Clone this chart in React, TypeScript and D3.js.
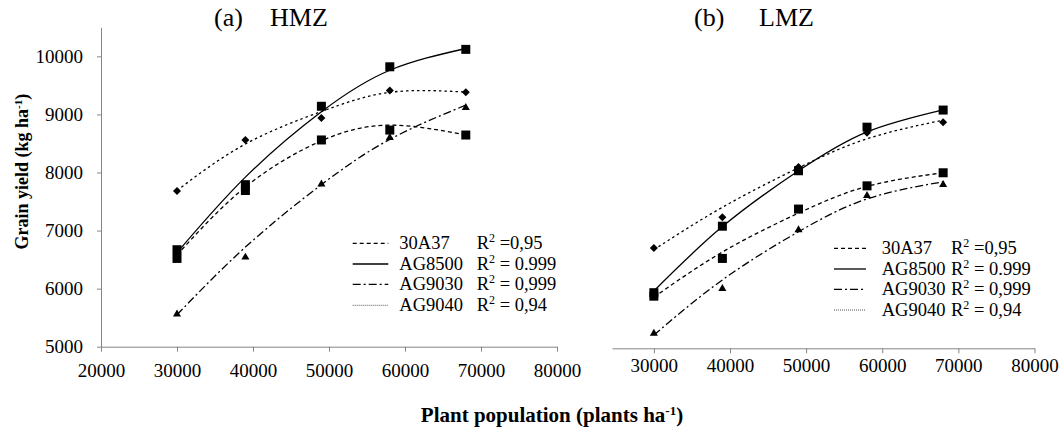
import { useEffect, useRef } from 'react'
import * as d3 from 'd3'

// ---- data ----
const populations = [30000, 39000, 49000, 58000, 68000]
const xTicksLeft = [20000, 30000, 40000, 50000, 60000, 70000, 80000]
const xTicksRight = [30000, 40000, 50000, 60000, 70000, 80000]
const yTicks = [5000, 6000, 7000, 8000, 9000, 10000]

const hybrids = ['30A37', 'AG8500', 'AG9030', 'AG9040']
const rSquared = [' =0,95', ' = 0.999', ' = 0,999', ' = 0,94']

// (a) HMZ observed means and fitted trend values
const hmz30A37 = [7680, 8560, 8940, 9410, 9380]
const hmz30A37Fit = [7690, 8490, 9050, 9380, 9385]
const hmzAG8500 = [6670, 7790, 9140, 9820, 10120]
const hmzAG8500Fit = [6620, 7920, 9045, 9760, 10135]
const hmzAG9030 = [5560, 6540, 7800, 8600, 9115]
const hmzAG9030Fit = [5550, 6715, 7790, 8570, 9160]
const hmzAG9040 = [6520, 7690, 8560, 8730, 8645]
const hmzAG9040Fit = [6580, 7750, 8545, 8815, 8645]

// (b) LMZ
const lmz30A37 = [6700, 7230, 8095, 8685, 8865]
const lmz30A37Fit = [6670, 7400, 8080, 8580, 8902]
const lmzAG8500 = [5930, 7075, 8030, 8780, 9075]
const lmzAG8500Fit = [5960, 7068, 8030, 8700, 9080]
const lmzAG9030 = [5230, 6000, 7010, 7600, 7790]
const lmzAG9030Fit = [5200, 6150, 6980, 7545, 7840]
const lmzAG9040 = [5870, 6520, 7370, 7770, 7995]
const lmzAG9040Fit = [5850, 6630, 7300, 7760, 7995]

const font = "'Liberation Serif', 'Times New Roman', serif"
const axisColor = '#868686'

const plotDash: Record<string, string | undefined> = {
  '30A37': '2.5 3',
  AG8500: undefined,
  AG9030: '8 3 2 3',
  AG9040: '4 3',
}
const legendDash: Record<string, string | undefined> = {
  '30A37': '4 3',
  AG8500: undefined,
  AG9030: '8 3 2 3',
  AG9040: '1 1',
}
const markerOf: Record<string, string> = {
  '30A37': 'diamond',
  AG8500: 'square',
  AG9030: 'triangle',
  AG9040: 'square',
}

type Series = { name: string; obs: number[]; fit: number[] }

const hmzSeries: Series[] = [
  { name: '30A37', obs: hmz30A37, fit: hmz30A37Fit },
  { name: 'AG8500', obs: hmzAG8500, fit: hmzAG8500Fit },
  { name: 'AG9030', obs: hmzAG9030, fit: hmzAG9030Fit },
  { name: 'AG9040', obs: hmzAG9040, fit: hmzAG9040Fit },
]
const lmzSeries: Series[] = [
  { name: '30A37', obs: lmz30A37, fit: lmz30A37Fit },
  { name: 'AG8500', obs: lmzAG8500, fit: lmzAG8500Fit },
  { name: 'AG9030', obs: lmzAG9030, fit: lmzAG9030Fit },
  { name: 'AG9040', obs: lmzAG9040, fit: lmzAG9040Fit },
]

const yScale = d3.scaleLinear().domain([5000, 10500]).range([346.7, 27.3])
const xLeft = d3.scaleLinear().domain([20000, 80000]).range([101, 557])
const xRight = d3.scaleLinear().domain([24500, 80000]).range([612, 1034.5])

const symSquare = d3.symbol().type(d3.symbolSquare).size(81)()
const symDiamond = d3.symbol().type(d3.symbolSquare).size(32)()
const symTriangle = d3.symbol().type(d3.symbolTriangle).size(28)()

function XAxis({ scale, ticks, y, labelY }: { scale: d3.ScaleLinear<number, number>; ticks: number[]; y: number; labelY: number }) {
  const ref = useRef<SVGGElement>(null)
  useEffect(() => {
    const g = d3.select(ref.current!)
    g.call(d3.axisBottom(scale).tickValues(ticks).tickSize(5).tickSizeOuter(0).tickFormat(d3.format('d')))
    g.select('.domain').attr('stroke', axisColor)
    g.selectAll('.tick line').attr('stroke', axisColor)
    g.selectAll('.tick text')
      .attr('fill', '#000')
      .attr('y', labelY)
      .attr('dy', null)
      .style('font-family', font)
      .style('font-size', '19px')
  }, [scale, ticks, labelY])
  return <g ref={ref} transform={`translate(0,${y})`} />
}

function YAxis({ x }: { x: number }) {
  const ref = useRef<SVGGElement>(null)
  useEffect(() => {
    const g = d3.select(ref.current!)
    g.call(d3.axisLeft(yScale).tickValues(yTicks).tickSize(4).tickPadding(14).tickSizeOuter(0).tickFormat(d3.format('d')))
    g.select('.domain').attr('stroke', axisColor)
    g.selectAll('.tick line').attr('stroke', axisColor)
    g.selectAll('.tick text')
      .attr('fill', '#000')
      .style('font-family', font)
      .style('font-size', '19px')
  }, [])
  return <g ref={ref} transform={`translate(${x},0)`} />
}

function Marker({ kind, cx, cy }: { kind: string; cx: number; cy: number }) {
  if (kind === 'diamond') return <path d={symDiamond!} transform={`translate(${cx},${cy}) rotate(45)`} fill="#000" />
  if (kind === 'triangle') return <path d={symTriangle!} transform={`translate(${cx},${cy})`} fill="#000" />
  return <path d={symSquare!} transform={`translate(${cx},${cy})`} fill="#000" />
}

function Panel({ x, series, legend }: {
  x: d3.ScaleLinear<number, number>
  series: Series[]
  legend: { x0: number; x1: number; tx: number; rx: number; rows: number[] }
}) {
  const line = d3.line<number>()
    .x((_, i) => x(populations[i]))
    .y(d => yScale(d))
    .curve(d3.curveNatural)
  return (
    <g>
      {series.map(s => (
        <path key={s.name + 'fit'} d={line(s.fit)!} fill="none" stroke="#000" strokeWidth={1.3}
          strokeDasharray={plotDash[s.name]} />
      ))}
      {series.map(s => s.obs.map((v, i) => (
        <Marker key={s.name + i} kind={markerOf[s.name]} cx={x(populations[i])} cy={yScale(v)} />
      )))}
      {hybrids.map((h, i) => (
        <g key={h}>
          <line x1={legend.x0} x2={legend.x1} y1={legend.rows[i]} y2={legend.rows[i]}
            stroke={h === 'AG9040' ? '#555' : '#000'} strokeWidth={h === 'AG9040' ? 1 : 1.3}
            strokeDasharray={legendDash[h]} />
          <text x={legend.tx} y={legend.rows[i] + 6} fontSize={18.5}>{h}</text>
          <text x={legend.rx} y={legend.rows[i] + 6} fontSize={18.5} style={{ whiteSpace: 'pre' }}>
            R<tspan dy={-7} fontSize={12}>2</tspan><tspan dy={7}>{rSquared[i]}</tspan>
          </text>
        </g>
      ))}
    </g>
  )
}

export default function App() {
  return (
    <svg width={1063} height={429} style={{ position: 'absolute', left: 0, top: 0, background: '#fff' }}
      fontFamily={font}>
      <rect width={1063} height={429} fill="#fff" />
      <text y={26} fontSize={26}>
        <tspan x={214}>(a)</tspan>
        <tspan x={270}>HMZ</tspan>
      </text>
      <text y={26} fontSize={26}>
        <tspan x={694}>(b)</tspan>
        <tspan x={759}>LMZ</tspan>
      </text>

      <YAxis x={101} />
      <XAxis scale={xLeft} ticks={xTicksLeft} y={346.7} labelY={30} />
      <XAxis scale={xRight} ticks={xTicksRight} y={348.3} labelY={24} />

      <Panel x={xLeft} series={hmzSeries}
        legend={{ x0: 352.7, x1: 388.3, tx: 399.3, rx: 476.7, rows: [243.3, 264, 284.3, 305.3] }} />
      <Panel x={xRight} series={lmzSeries}
        legend={{ x0: 834, x1: 866, tx: 881.7, rx: 951, rows: [248.3, 269, 289.3, 310] }} />

      <text transform="translate(28,171.7) rotate(-90)" textAnchor="middle" fontWeight="bold" fontSize={18}>
        Grain yield (kg ha<tspan dy={-6} fontSize={11}>-1</tspan><tspan dy={6}>)</tspan>
      </text>
      <text x={552} y={422} textAnchor="middle" fontWeight="bold" fontSize={21}>
        Plant population (plants ha<tspan dy={-7} fontSize={13}>-1</tspan><tspan dy={7}>)</tspan>
      </text>
    </svg>
  )
}
